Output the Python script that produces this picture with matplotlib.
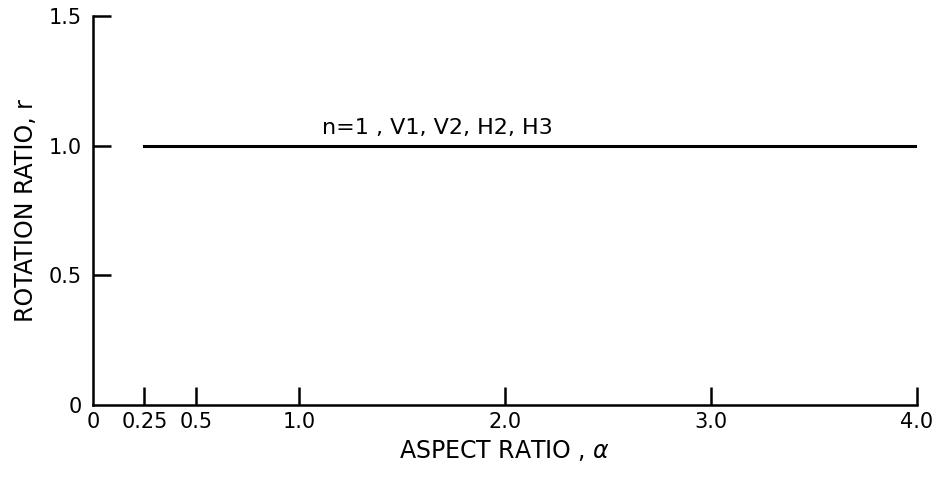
import matplotlib.pyplot as plt
import numpy as np

plt.rcParams["font.family"] = "DejaVu Sans"

# data
aspect = [0.25, 4.0]
rotation_ratio = [1.0, 1.0]
xticks = [0, 0.25, 0.5, 1.0, 2.0, 3.0, 4.0]
xticklabels = ['0', '0.25', '0.5', '1.0', '2.0', '3.0', '4.0']
yticks = [0, 0.5, 1.0, 1.5]
yticklabels = ['0', '0.5', '1.0', '1.5']
curve_label = 'n=1 , V1, V2, H2, H3'

fig = plt.figure(figsize=(9.42, 4.78), dpi=100)
ax = fig.add_axes([0.0987, 0.1527, 0.8748, 0.8138])

ax.plot(aspect, rotation_ratio, color='k', linewidth=2.2)
ax.text(1.11, 1.03, curve_label, fontsize=16, ha='left', va='bottom')

ax.set_xlim(0, 4.0)
ax.set_ylim(0, 1.5)
ax.set_xticks(xticks)
ax.set_xticklabels(xticklabels)
ax.set_yticks(yticks)
ax.set_yticklabels(yticklabels)

for s in ['top', 'right']:
    ax.spines[s].set_visible(False)
for s in ['left', 'bottom']:
    ax.spines[s].set_linewidth(1.8)

ax.tick_params(axis='both', direction='in', length=13, width=1.8, labelsize=15)
ax.tick_params(axis='x', pad=5)
ax.tick_params(axis='y', pad=8)
# no tick marks at the origin
ax.xaxis.get_major_ticks()[0].tick1line.set_visible(False)
ax.yaxis.get_major_ticks()[0].tick1line.set_visible(False)

ax.set_xlabel(r'ASPECT RATIO , $\alpha$', fontsize=17, labelpad=4)
ax.set_ylabel('ROTATION RATIO, r', fontsize=17, labelpad=8)

fig.savefig('out.png', dpi=100)
